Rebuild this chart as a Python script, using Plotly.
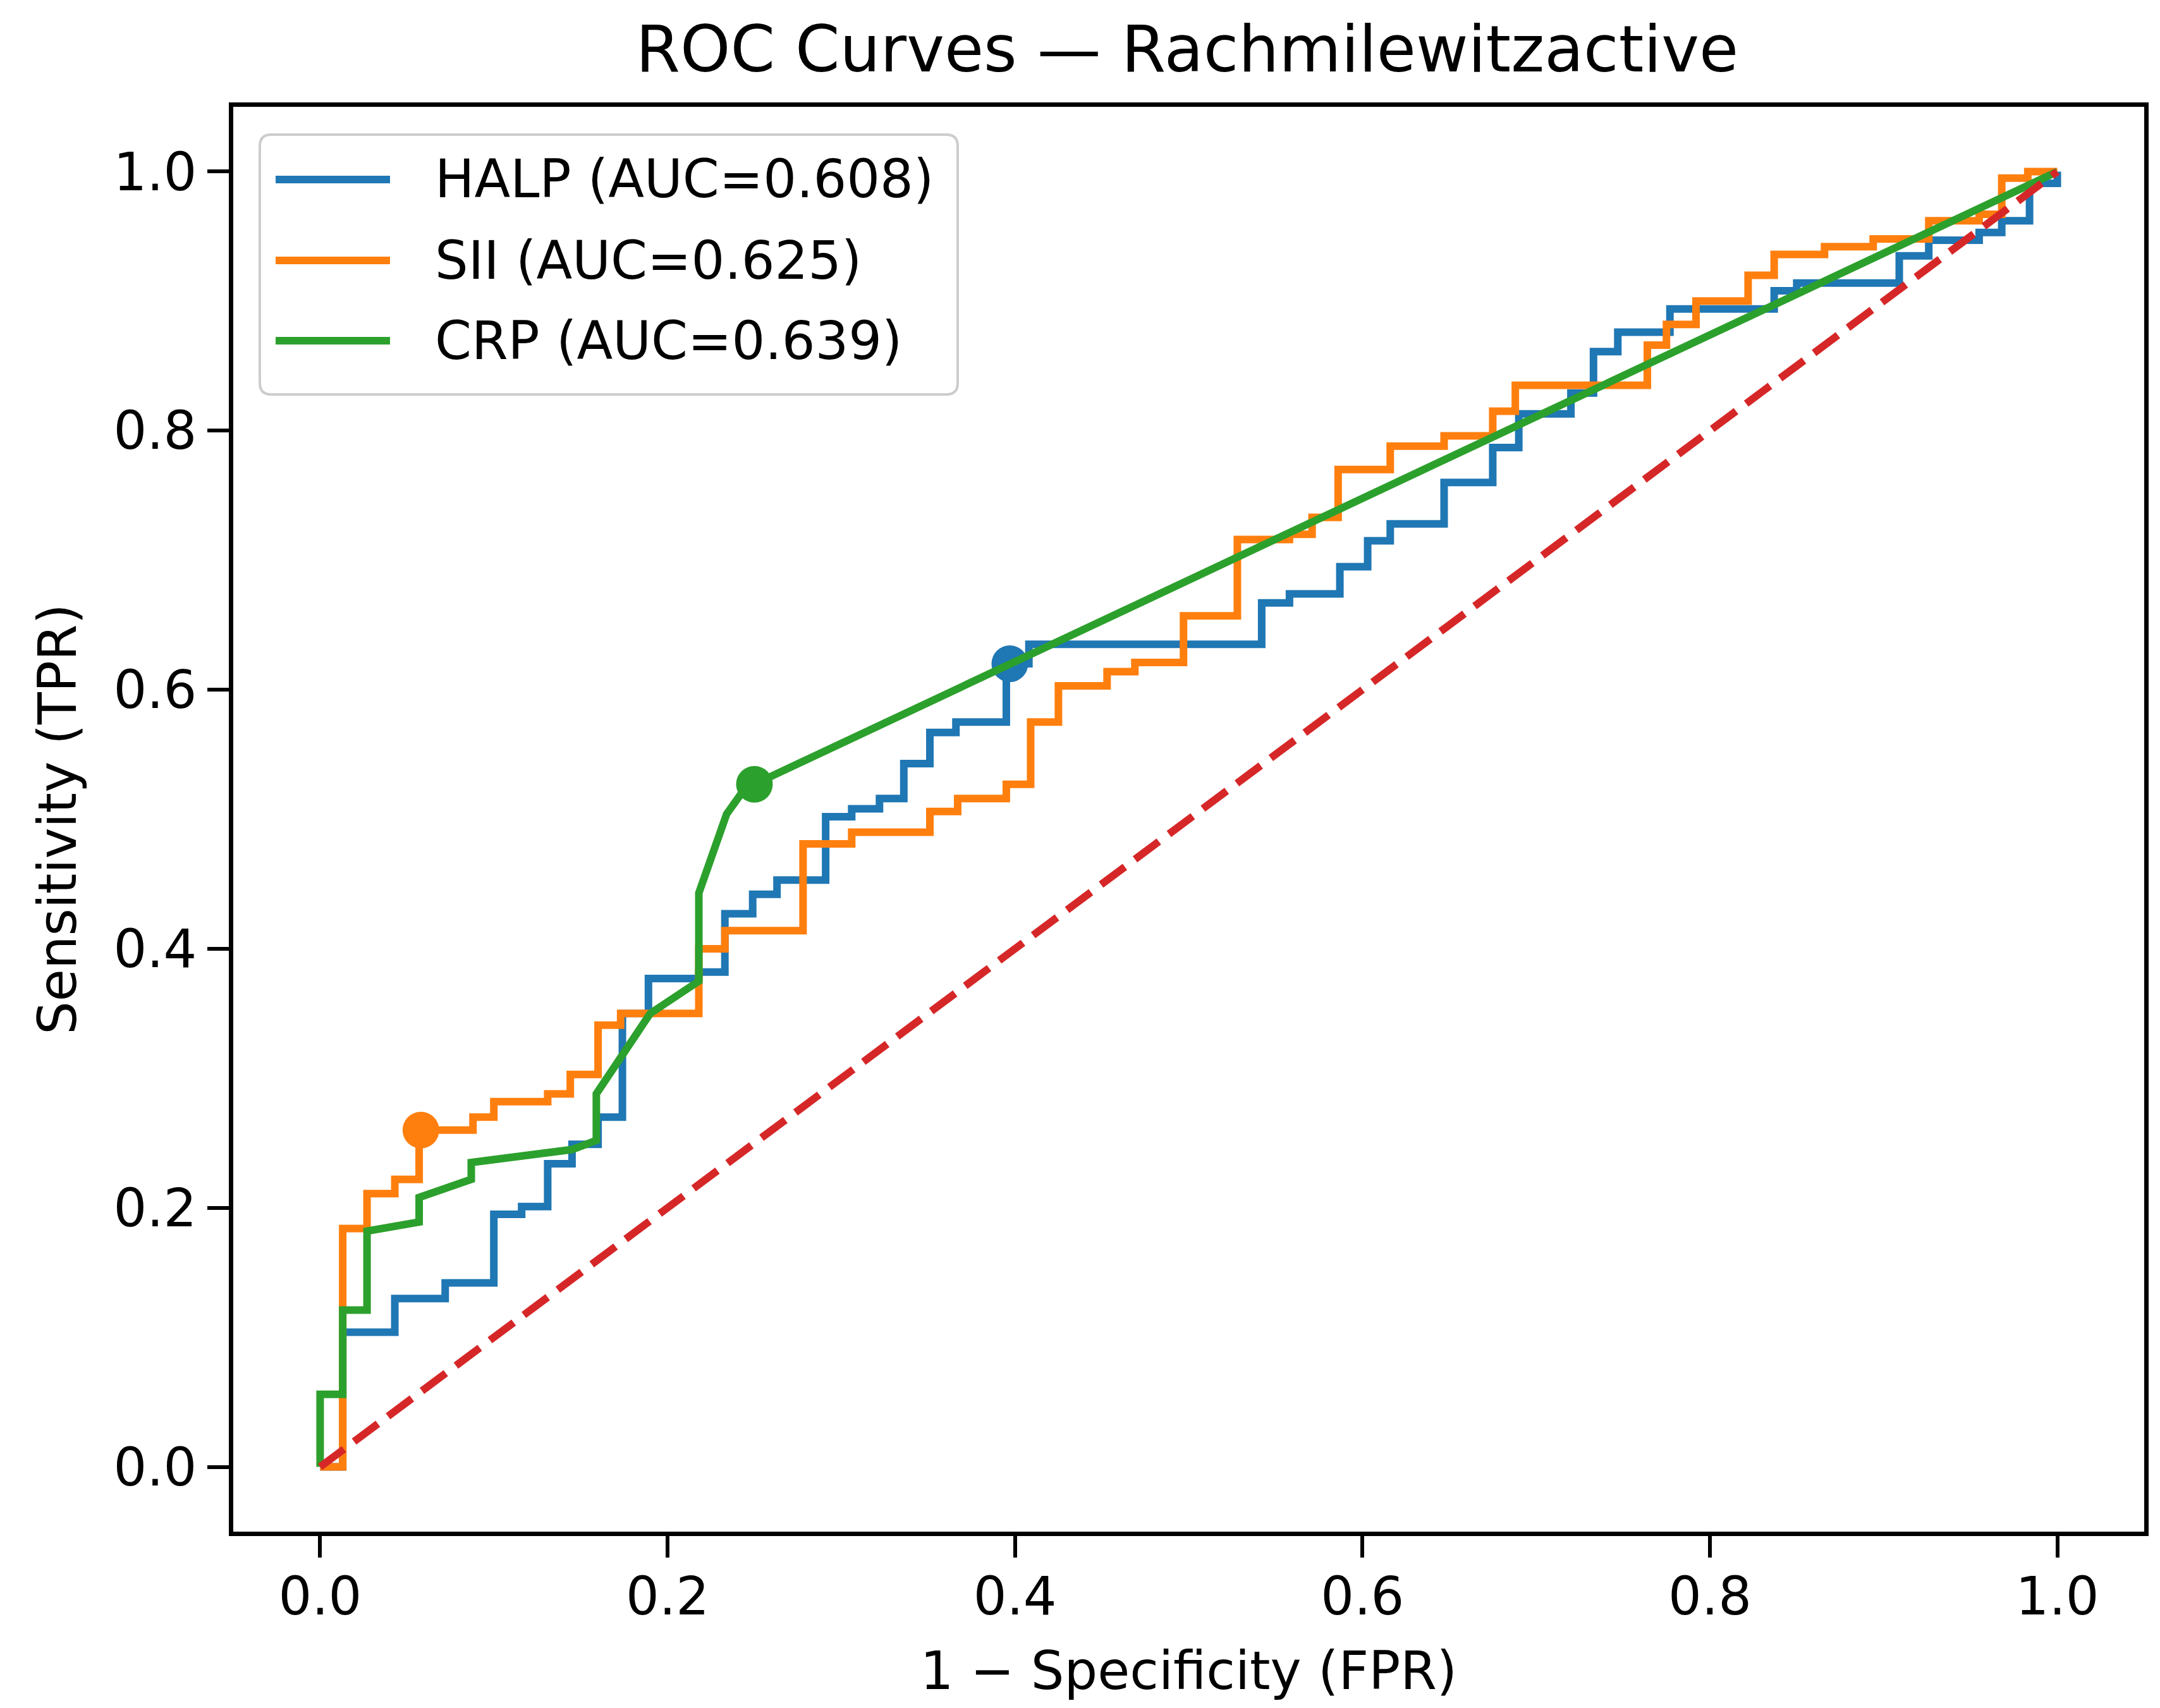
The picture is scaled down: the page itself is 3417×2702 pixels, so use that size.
import plotly.graph_objects as go

# ---- data ----
TITLE = "ROC Curves — Rachmilewitzactive"
X_LABEL = "1 − Specificity (FPR)"
Y_LABEL = "Sensitivity (TPR)"

NAMES = ["HALP", "SII", "CRP"]
AUC = [0.608, 0.625, 0.639]
COLORS = ["#1f77b4", "#ff7f0e", "#2ca02c"]

# step corners (drawn with shape "hv")
HALP_FPR = [0, 0.013, 0.043, 0.072, 0.100, 0.116, 0.131, 0.145, 0.160, 0.174,
            0.189, 0.218, 0.233, 0.249, 0.263, 0.291, 0.306, 0.322, 0.336, 0.351,
            0.366, 0.395, 0.408, 0.542, 0.558, 0.587, 0.603, 0.616, 0.647, 0.675,
            0.690, 0.720, 0.733, 0.747, 0.777, 0.837, 0.850, 0.909, 0.926, 0.955,
            0.968, 0.984, 1.0]
HALP_TPR = [0, 0.104, 0.130, 0.142, 0.195, 0.201, 0.234, 0.249, 0.270, 0.350,
            0.377, 0.382, 0.427, 0.442, 0.453, 0.502, 0.508, 0.516, 0.543, 0.567,
            0.575, 0.620, 0.635, 0.667, 0.674, 0.695, 0.715, 0.728, 0.760, 0.787,
            0.813, 0.829, 0.861, 0.876, 0.894, 0.908, 0.914, 0.935, 0.947, 0.953,
            0.962, 0.991, 1.0]

SII_FPR = [0, 0.013, 0.027, 0.043, 0.057, 0.088, 0.100, 0.131, 0.144, 0.160,
           0.173, 0.218, 0.233, 0.278, 0.306, 0.351, 0.367, 0.395, 0.409, 0.425,
           0.453, 0.469, 0.497, 0.528, 0.558, 0.571, 0.586, 0.616, 0.647, 0.675,
           0.688, 0.764, 0.775, 0.792, 0.822, 0.837, 0.866, 0.894, 0.926, 0.955,
           0.968, 0.983, 1.0]
SII_TPR = [0, 0.184, 0.211, 0.222, 0.260, 0.270, 0.282, 0.288, 0.303, 0.341,
           0.350, 0.400, 0.414, 0.481, 0.490, 0.506, 0.516, 0.527, 0.575, 0.603,
           0.614, 0.621, 0.657, 0.716, 0.720, 0.733, 0.770, 0.788, 0.796, 0.815,
           0.835, 0.866, 0.882, 0.900, 0.920, 0.936, 0.942, 0.948, 0.962, 0.967,
           0.995, 1.0, 1.0]

# CRP has tied scores, so it is drawn point to point
CRP_FPR = [0, 0, 0.013, 0.013, 0.027, 0.027, 0.057, 0.057, 0.087, 0.087,
           0.145, 0.159, 0.159, 0.190, 0.218, 0.218, 0.234, 0.242, 0.250, 1.0]
CRP_TPR = [0, 0.056, 0.056, 0.121, 0.121, 0.182, 0.189, 0.208, 0.222, 0.235,
           0.245, 0.252, 0.288, 0.350, 0.375, 0.443, 0.504, 0.519, 0.527, 1.0]

# optimal cut-off points (Youden)
OPT_FPR = [0.397, 0.058, 0.250]
OPT_TPR = [0.620, 0.260, 0.527]

TICKS = [0.0, 0.2, 0.4, 0.6, 0.8, 1.0]

# ---- figure geometry (pixels) ----
W, H = 3417, 2702
ML, MR, MT, MB = 361, 33, 161, 287
FONT = "DejaVu Sans"
LW = 12


def px(x):
    # pixel column -> paper x
    return (x - ML) / (W - ML - MR)


def py(y):
    # pixel row -> paper y
    return (H - MB - y) / (H - MT - MB)


fig = go.Figure()

curves = [(HALP_FPR, HALP_TPR, "hv"), (SII_FPR, SII_TPR, "hv"), (CRP_FPR, CRP_TPR, "linear")]
for i, (fpr, tpr, shape) in enumerate(curves):
    fig.add_trace(go.Scatter(
        x=fpr, y=tpr, mode="lines", name=NAMES[i], showlegend=False,
        line=dict(color=COLORS[i], width=LW, shape=shape)
    ))
    fig.add_trace(go.Scatter(
        x=[OPT_FPR[i]], y=[OPT_TPR[i]], mode="markers", showlegend=False,
        marker=dict(color=COLORS[i], size=58, line=dict(width=0))
    ))

# chance line
fig.add_trace(go.Scatter(
    x=[0, 1], y=[0, 1], mode="lines", showlegend=False,
    line=dict(color="#d62728", width=LW, dash="47px,20px")
))

# hand-made legend box so the line samples are as long as in matplotlib
x0, x1 = px(403), px(1507)
y0, y1 = py(616), py(205)
rx, ry = 18 / (W - ML - MR), 18 / (H - MT - MB)
box = (f"M {x0+rx},{y0} L {x1-rx},{y0} Q {x1},{y0} {x1},{y0+ry} "
       f"L {x1},{y1-ry} Q {x1},{y1} {x1-rx},{y1} L {x0+rx},{y1} "
       f"Q {x0},{y1} {x0},{y1-ry} L {x0},{y0+ry} Q {x0},{y0} {x0+rx},{y0} Z")
shapes = [dict(type="path", path=box, xref="paper", yref="paper",
               fillcolor="rgba(255,255,255,0.8)", line=dict(color="#cccccc", width=4))]
annotations = []
rows = [276, 404, 531]
for i, name in enumerate(NAMES):
    shapes.append(dict(type="line", xref="paper", yref="paper",
                       x0=px(428), x1=px(609), y0=py(rows[i]), y1=py(rows[i]),
                       line=dict(color=COLORS[i], width=LW)))
    annotations.append(dict(text=f"{name} (AUC={AUC[i]:.3f})", xref="paper", yref="paper",
                            x=px(678), y=py(rows[i]), xanchor="left", yanchor="middle",
                            showarrow=False, font=dict(family=FONT, size=83, color="black")))

axis_common = dict(
    range=[-0.05, 1.05], tickvals=TICKS, tickformat=".1f",
    showline=True, mirror=True, linecolor="black", linewidth=7,
    ticks="outside", ticklen=34, tickwidth=6, tickcolor="black",
    showgrid=False, zeroline=False,
    tickfont=dict(family=FONT, size=83, color="black"),
)

fig.update_layout(
    width=W, height=H,
    margin=dict(l=ML, r=MR, t=MT, b=MB),
    paper_bgcolor="white", plot_bgcolor="white",
    title=dict(text=TITLE, x=px(1870), xanchor="center", xref="paper",
               y=1 - 70 / H, yref="container", yanchor="middle",
               font=dict(family=FONT, size=101, color="black")),
    xaxis=dict(axis_common, ticklabelstandoff=-10,
               title=dict(text=X_LABEL, standoff=44,
                          font=dict(family=FONT, size=83, color="black"))),
    yaxis=dict(axis_common, title=dict(text=Y_LABEL, standoff=34,
                                       font=dict(family=FONT, size=83, color="black"))),
    shapes=shapes,
    annotations=annotations,
)

fig.write_html("out.html")
